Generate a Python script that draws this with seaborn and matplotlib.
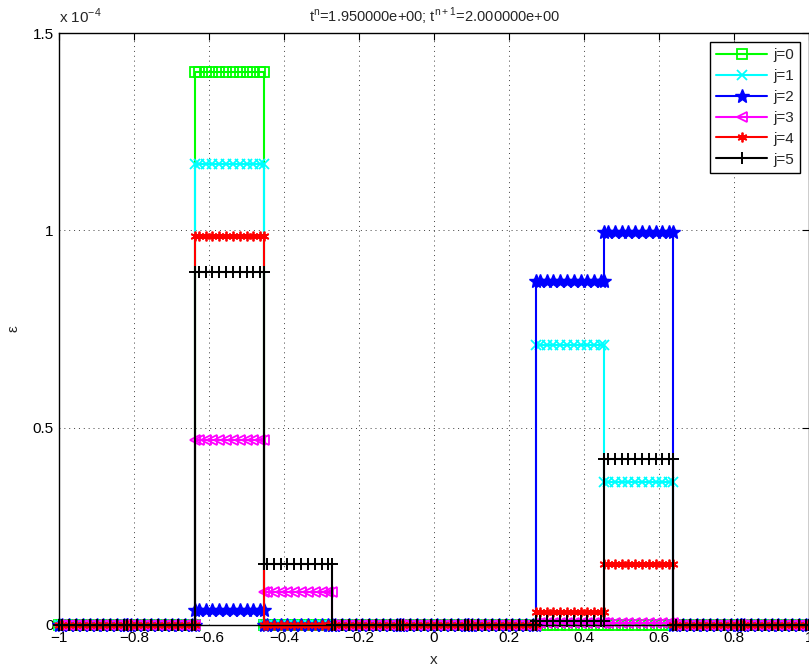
import numpy as np
import pandas as pd
import matplotlib
matplotlib.use("Agg")
import matplotlib.pyplot as plt
from matplotlib.ticker import FuncFormatter
import seaborn as sns

# Cell-wise values of epsilon (units of 1e-4) on 11 uniform cells over [-1, 1]
n_cells = 11
eps_j0 = [0, 0, 1.400, 0.000, 0, 0, 0, 0.000, 0.000, 0, 0]
eps_j1 = [0, 0, 1.167, 0.000, 0, 0, 0, 0.709, 0.362, 0, 0]
eps_j2 = [0, 0, 0.038, 0.000, 0, 0, 0, 0.871, 0.995, 0, 0]
eps_j3 = [0, 0, 0.468, 0.084, 0, 0, 0, 0.005, 0.005, 0, 0]
eps_j4 = [0, 0, 0.985, 0.000, 0, 0, 0, 0.034, 0.154, 0, 0]
eps_j5 = [0, 0, 0.894, 0.154, 0, 0, 0, 0.010, 0.420, 0, 0]
series_labels = ["j=0", "j=1", "j=2", "j=3", "j=4", "j=5"]
series_values = [eps_j0, eps_j1, eps_j2, eps_j3, eps_j4, eps_j5]

title_text = r"t$^{\mathregular{n}}$=1.950000e+00; t$^{\mathregular{n+1}}$=2.000000e+00"
x_ticks = [-1, -0.8, -0.6, -0.4, -0.2, 0, 0.2, 0.4, 0.6, 0.8, 1]
y_ticks = [0, 0.5, 1, 1.5]

# Sample points inside every cell (both cell ends plus interior nodes)
edges = np.linspace(-1, 1, n_cells + 1)
frac = np.concatenate([[0.0], np.arange(0.05, 1.0, 0.1), [1.0]])

rows = []
for lab, vals in zip(series_labels, series_values):
    order = 0
    for c in range(n_cells):
        h = edges[c + 1] - edges[c]
        for f in frac:
            rows.append({"x": edges[c] + f * h, "eps": vals[c], "j": lab, "k": order})
            order += 1
df = pd.DataFrame(rows)

sns.set_style("white")
plt.rcParams["font.family"] = ["Liberation Sans", "DejaVu Sans"]
plt.rcParams["mathtext.fontset"] = "custom"
plt.rcParams["mathtext.rm"] = "Liberation Sans"
plt.rcParams["axes.unicode_minus"] = True

styles = {
    "j=0": dict(color="#00ff00", marker="s", mfc="none", ms=6.5, mew=1.3),
    "j=1": dict(color="#00ffff", marker="x", mfc="none", ms=6.5, mew=1.3),
    "j=2": dict(color="#0000ff", marker="*", mfc="#0000ff", ms=10, mew=1.0),
    "j=3": dict(color="#ff00ff", marker="<", mfc="none", ms=7.5, mew=1.3),
    "j=4": dict(color="#ff0000", marker=(6, 2, 0), mfc="none", ms=7, mew=1.3),
    "j=5": dict(color="#000000", marker="+", mfc="none", ms=8.5, mew=1.4),
}

fig = plt.figure(figsize=(8.09, 6.71), dpi=100)
ax = fig.add_axes([0.073, 0.0686, 0.927, 0.8822])

for lab in series_labels:
    st = styles[lab]
    sub = df[df["j"] == lab]
    sns.lineplot(data=sub, x="x", y="eps", ax=ax, sort=False, estimator=None,
                 color=st["color"], marker=st["marker"], markerfacecolor=st["mfc"],
                 markeredgecolor=st["color"], markersize=st["ms"], markeredgewidth=st["mew"],
                 linewidth=1.5, label=lab)
for ln in ax.lines:
    ln.set_clip_on(False)

ax.set_xlim(-1, 1)
ax.set_ylim(0, 1.5)
ax.set_xticks(x_ticks)
ax.set_yticks(y_ticks)
fmt = FuncFormatter(lambda v, p: ("%g" % v).replace("-", "\u2212"))
ax.xaxis.set_major_formatter(fmt)
ax.yaxis.set_major_formatter(fmt)
ax.tick_params(direction="in", length=5, width=0.8, top=True, right=True,
               labelsize=11, colors="black", pad=4)
for s in ax.spines.values():
    s.set_color("black")
    s.set_linewidth(1.0)
ax.grid(True, linestyle=(0, (1, 4)), color="#404040", linewidth=0.7)
ax.set_axisbelow(True)

ax.set_xlabel("x", fontsize=11, labelpad=6)
ax.set_ylabel("\u03b5", fontsize=11)
ax.yaxis.set_label_coords(-0.052, 0.5)
ax.set_title(title_text, fontsize=10.5, pad=8)
ax.text(0.0, 1.012, r"x 10$^{\mathregular{-4}}$", transform=ax.transAxes,
        fontsize=11, ha="left", va="bottom")

leg = ax.legend(loc="upper right", fontsize=11, handlelength=3.3, handletextpad=0.4,
                borderpad=0.4, labelspacing=0.45, fancybox=False, framealpha=1,
                edgecolor="black", borderaxespad=0.6)
leg.get_frame().set_linewidth(1.0)
leg.set_zorder(5)

fig.savefig("out.png", dpi=100)
